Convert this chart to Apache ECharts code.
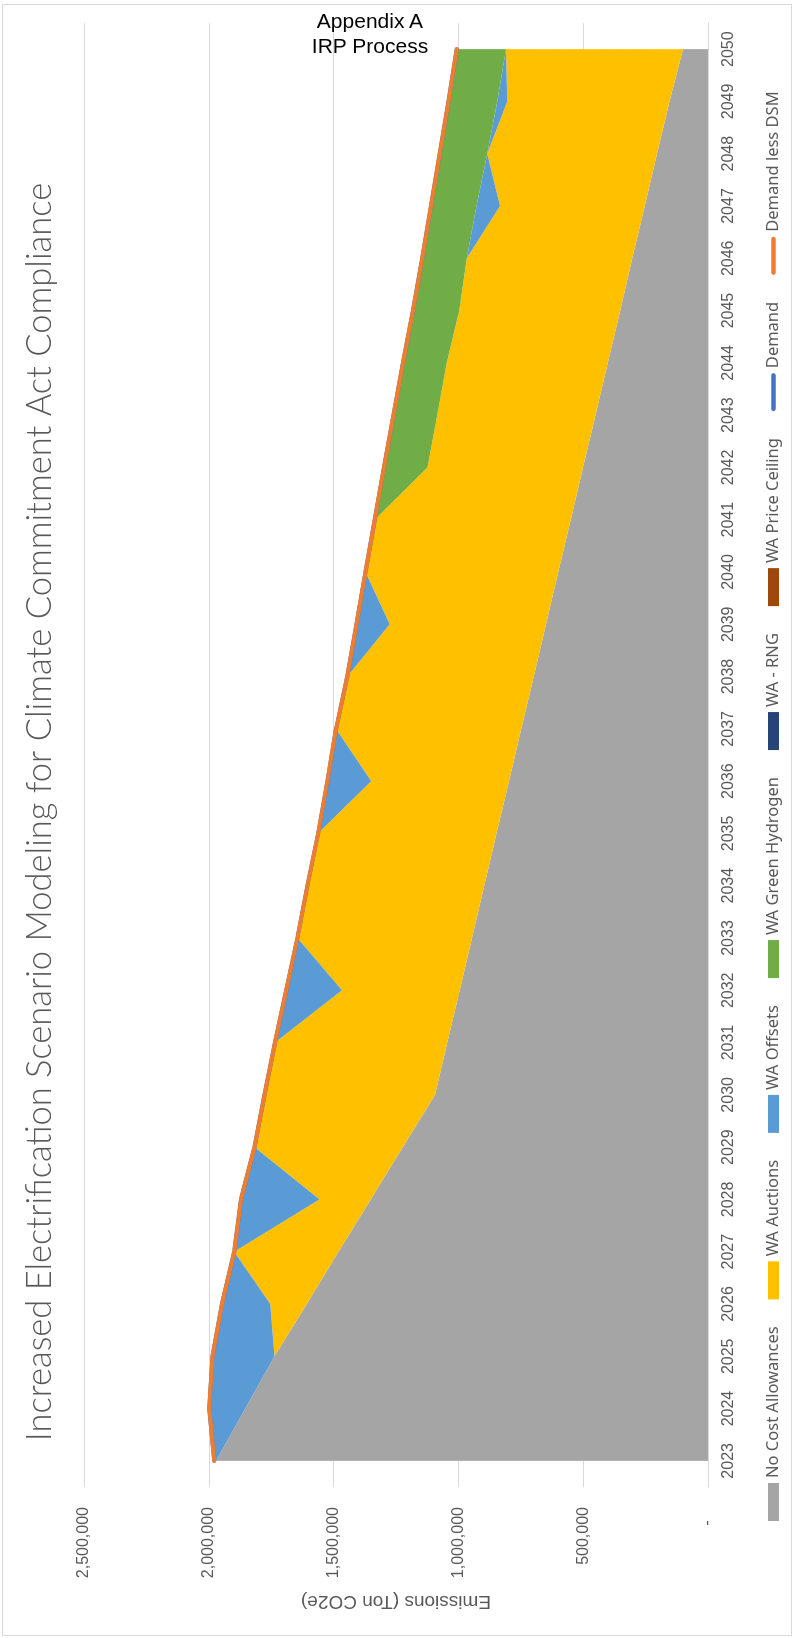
<!DOCTYPE html>
<html>
<head>
<meta charset="utf-8">
<title>Increased Electrification Scenario Modeling for Climate Commitment Act Compliance</title>
<script src="https://cdn.jsdelivr.net/npm/echarts@6/dist/echarts.min.js"></script>
<style>
  html, body { margin: 0; padding: 0; background: #fff; }
  body { width: 794px; height: 1638px; position: relative; overflow: hidden; }
  #frame { position: absolute; left: 2px; top: 4px; width: 790px; height: 1632px; border: 1px solid #d9d9d9; box-sizing: border-box; }
  /* the chart is laid out landscape and turned a quarter turn to the left */
  #chart { position: absolute; left: 0; top: 0; width: 1638px; height: 794px; transform-origin: 0 0; transform: translateY(1638px) rotate(-90deg); }
  #header { position: absolute; left: 270px; top: 8px; width: 200px; text-align: center; font-family: 'Liberation Sans', Arial, sans-serif; font-size: 21px; line-height: 25px; color: #000; }
</style>
</head>
<body>
<div id="frame"></div>
<div id="chart"></div>
<div id="header">Appendix A<br>IRP Process</div>
<script>
// tons CO2e
const years = ['2023', '2024', '2025', '2026', '2027', '2028', '2029', '2030', '2031', '2032',
  '2033', '2034', '2035', '2036', '2037', '2038', '2039', '2040', '2041', '2042',
  '2043', '2044', '2045', '2046', '2047', '2048', '2049', '2050'];

const noCostAllowances = [1971000, 1854000, 1737000, 1608000, 1480000, 1351000, 1223000, 1094000, 1045000, 995000,
  946000, 896000, 847000, 797000, 748000, 698000, 649000, 600000, 550000, 501000,
  451000, 402000, 352000, 303000, 253000, 204000, 154000, 100000];

const waAuctions = [0, 0, 0, 146000, 418000, 205000, 594000, 683000, 690000, 471000,
  699000, 709000, 715000, 552000, 742000, 747000, 626000, 772000, 785000, 623000,
  634000, 645000, 645000, 664000, 580000, 680000, 650000, 709000];

const waOffsets = [7000, 144000, 248000, 193000, 0, 315000, 0, 0, 0, 224000,
  0, 0, 0, 176000, 0, 0, 133000, 0, 0, 0,
  0, 0, 0, 0, 94000, 0, 40000, 0];

const waGreenHydrogen = [0, 0, 0, 0, 0, 0, 0, 0, 0, 0,
  0, 0, 0, 0, 0, 0, 0, 0, 0, 174000,
  175000, 175000, 185000, 178000, 183000, 191000, 196000, 198000];

const waRng = [0, 0, 0, 0, 0, 0, 0, 0, 0, 0, 0, 0, 0, 0, 0, 0, 0, 0, 0, 0, 0, 0, 0, 0, 0, 0, 0, 0];

const waPriceCeiling = [0, 0, 0, 0, 0, 0, 0, 0, 0, 0, 0, 0, 0, 0, 0, 0, 0, 0, 0, 0, 0, 0, 0, 0, 0, 0, 0, 0];

const demand = [1978000, 1998000, 1985000, 1947000, 1898000, 1871000, 1817000, 1777000, 1735000, 1690000,
  1645000, 1605000, 1562000, 1525000, 1490000, 1445000, 1408000, 1372000, 1335000, 1298000,
  1260000, 1222000, 1182000, 1145000, 1110000, 1075000, 1040000, 1007000];

const demandLessDsm = [1978000, 1998000, 1985000, 1947000, 1898000, 1871000, 1817000, 1777000, 1735000, 1690000,
  1645000, 1605000, 1562000, 1525000, 1490000, 1445000, 1408000, 1372000, 1335000, 1298000,
  1260000, 1222000, 1182000, 1145000, 1110000, 1075000, 1040000, 1007000];

const valueTicks = [0, 500000, 1000000, 1500000, 2000000, 2500000];

const textColor = '#595959';
// short rounded bar used as the legend key of the two lines
const lineKey = 'path://M2.5,0 L41.5,0 A2.5,2.5 0 0 1 41.5,5 L2.5,5 A2.5,2.5 0 0 1 2.5,0 Z';

function area(name, data, color) {
  return {
    name: name,
    type: 'line',
    stack: 'emissions',
    data: data,
    symbol: 'none',
    lineStyle: { width: 0 },
    itemStyle: { color: color },
    areaStyle: { color: color, opacity: 1 }
  };
}

function line(name, data, color) {
  return {
    name: name,
    type: 'line',
    data: data,
    symbol: 'none',
    itemStyle: { color: color },
    lineStyle: { color: color, width: 4, cap: 'round', join: 'round' }
  };
}

const chart = echarts.init(document.getElementById('chart'), null, { renderer: 'canvas' });

chart.setOption({
  animation: false,
  backgroundColor: 'transparent',
  textStyle: { fontFamily: "'Liberation Sans', Arial, sans-serif", color: textColor },
  graphic: [{
    type: 'text',
    x: 826,
    y: 40,
    style: {
      text: 'Increased Electrification Scenario Modeling for Climate Commitment Act Compliance',
      fill: textColor,
      font: "300 34.5px Lato, 'Noto Sans', sans-serif",
      textAlign: 'center',
      textVerticalAlign: 'middle'
    }
  }],
  legend: {
    left: 112,
    top: 760,
    itemWidth: 38,
    itemHeight: 11,
    itemGap: 27,
    textStyle: { fontFamily: "'Noto Sans', sans-serif", fontSize: 16.5, color: textColor },
    data: [
      { name: 'No Cost Allowances', icon: 'rect' },
      { name: 'WA Auctions', icon: 'rect' },
      { name: 'WA Offsets', icon: 'rect' },
      { name: 'WA Green Hydrogen', icon: 'rect' },
      { name: 'WA - RNG', icon: 'rect' },
      { name: 'WA Price Ceiling', icon: 'rect' },
      { name: 'Demand', icon: lineKey },
      { name: 'Demand less DSM', icon: lineKey }
    ]
  },
  grid: { left: 151, right: 23, top: 84, bottom: 86, outerBoundsMode: 'none' },
  xAxis: {
    type: 'category',
    data: years,
    boundaryGap: true,
    axisLine: { show: true, lineStyle: { color: '#d9d9d9', width: 1 } },
    axisTick: { show: false },
    axisLabel: { color: textColor, fontSize: 16, margin: 13, interval: 0 },
    splitLine: { show: false }
  },
  yAxis: {
    type: 'value',
    min: valueTicks[0],
    max: valueTicks[valueTicks.length - 1],
    interval: valueTicks[1] - valueTicks[0],
    name: 'Emissions (Ton CO2e)',
    nameLocation: 'middle',
    nameGap: 105,
    nameTextStyle: { color: textColor, fontSize: 19 },
    axisLine: { show: false },
    axisTick: { show: false },
    axisLabel: {
      color: textColor,
      fontSize: 16,
      margin: 20,
      formatter: function (v) { return v === 0 ? '-   ' : v.toLocaleString('en-US'); }
    },
    splitLine: { lineStyle: { color: '#d9d9d9', width: 1 } }
  },
  series: [
    area('No Cost Allowances', noCostAllowances, '#a5a5a5'),
    area('WA Auctions', waAuctions, '#ffc000'),
    area('WA Offsets', waOffsets, '#5b9bd5'),
    area('WA Green Hydrogen', waGreenHydrogen, '#70ad47'),
    area('WA - RNG', waRng, '#264478'),
    area('WA Price Ceiling', waPriceCeiling, '#9e480e'),
    line('Demand', demand, '#4472c4'),
    line('Demand less DSM', demandLessDsm, '#ed7d31')
  ]
});
</script>
</body>
</html>
